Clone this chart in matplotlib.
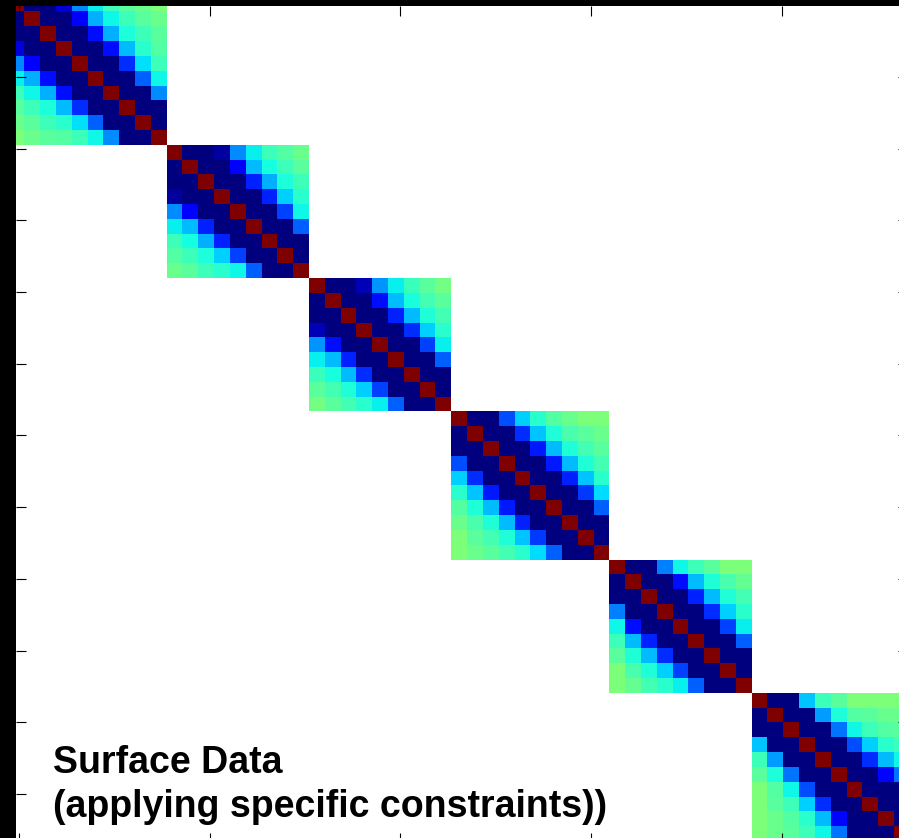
import numpy as np
import matplotlib.pyplot as plt

# upper-triangle values of each diagonal block: row i -> columns i+1, i+2, ...
block1 = [
    [0.00, 0.00, 0.08, 0.26, 0.36, 0.425, 0.46, 0.48, 0.50],
    [0.00, 0.00, 0.12, 0.30, 0.37, 0.425, 0.46, 0.48],
    [0.00, 0.00, 0.14, 0.30, 0.385, 0.425, 0.46],
    [0.00, 0.00, 0.14, 0.31, 0.40, 0.45],
    [0.00, 0.00, 0.17, 0.345, 0.425],
    [0.00, 0.00, 0.22, 0.37],
    [0.00, 0.00, 0.265],
    [0.00, 0.00],
    [0.00],
]
block2 = [
    [0.00, 0.00, 0.03, 0.265, 0.36, 0.425, 0.45, 0.48],
    [0.00, 0.00, 0.12, 0.31, 0.375, 0.425, 0.46],
    [0.00, 0.00, 0.16, 0.30, 0.385, 0.425],
    [0.00, 0.00, 0.16, 0.33, 0.40],
    [0.00, 0.00, 0.19, 0.37],
    [0.00, 0.00, 0.22],
    [0.00, 0.00],
    [0.00],
]
block3 = [
    [0.00, 0.00, 0.05, 0.27, 0.36, 0.42, 0.46, 0.49],
    [0.00, 0.00, 0.14, 0.31, 0.38, 0.43, 0.46],
    [0.00, 0.00, 0.16, 0.31, 0.39, 0.43],
    [0.00, 0.00, 0.17, 0.33, 0.40],
    [0.00, 0.00, 0.19, 0.36],
    [0.00, 0.00, 0.22],
    [0.00, 0.00],
    [0.00],
]
block4 = [
    [0.00, 0.00, 0.20, 0.33, 0.40, 0.45, 0.48, 0.50, 0.50],
    [0.00, 0.00, 0.17, 0.32, 0.39, 0.44, 0.46, 0.48],
    [0.00, 0.00, 0.15, 0.31, 0.39, 0.43, 0.46],
    [0.00, 0.00, 0.15, 0.31, 0.39, 0.43],
    [0.00, 0.00, 0.16, 0.32, 0.40],
    [0.00, 0.00, 0.18, 0.34],
    [0.00, 0.00, 0.22],
    [0.00, 0.00],
    [0.00],
]
block5 = [
    [0.00, 0.00, 0.25, 0.37, 0.425, 0.46, 0.50, 0.50],
    [0.00, 0.00, 0.14, 0.31, 0.39, 0.44, 0.47],
    [0.00, 0.00, 0.16, 0.31, 0.39, 0.43],
    [0.00, 0.00, 0.17, 0.33, 0.40],
    [0.00, 0.00, 0.19, 0.36],
    [0.00, 0.00, 0.22],
    [0.00, 0.00],
    [0.00],
]
block6 = [
    [0.00, 0.00, 0.32, 0.425, 0.46, 0.50, 0.50, 0.50, 0.50],
    [0.00, 0.00, 0.28, 0.385, 0.45, 0.46, 0.48, 0.48],
    [0.00, 0.00, 0.24, 0.37, 0.425, 0.45, 0.46],
    [0.00, 0.00, 0.20, 0.33, 0.40, 0.425],
    [0.00, 0.00, 0.17, 0.31, 0.37],
    [0.00, 0.00, 0.13, 0.24],
    [0.00, 0.00, 0.00],
    [0.00, 0.00],
    [0.00],
]
blocks = [block1, block2, block3, block4, block5, block6]
diag_value = 1.0

label_lines = ["Surface Data", "(applying specific constraints))"]

# assemble the block-diagonal matrix
sizes = [len(b) + 1 for b in blocks]
n = sum(sizes)
mat = np.full((n, n), np.nan)
start = 0
for b, size in zip(blocks, sizes):
    for i, row in enumerate(b):
        for k, v in enumerate(row):
            j = i + 1 + k
            mat[start + i, start + j] = v
            mat[start + j, start + i] = v
    for i in range(size):
        mat[start + i, start + i] = diag_value
    start += size

W, H = 899, 838
fig = plt.figure(figsize=(W / 100, H / 100), dpi=100, facecolor='black')

# axes in pixel units; the chart is a crop so the axes run past the right/bottom edges
ax_left, ax_right, ax_top, ax_bottom = 16, 908, 6, 843
ax = fig.add_axes([ax_left / W, (H - ax_bottom) / H,
                   (ax_right - ax_left) / W, (ax_bottom - ax_top) / H])
ax.set_facecolor('white')

cell_w, cell_h = 15.81, 14.8
x0, y0 = 8.6, -2.3
cmap = plt.get_cmap('jet').copy()
cmap.set_bad('white')
ax.imshow(np.ma.masked_invalid(mat), cmap=cmap, vmin=0, vmax=1,
          interpolation='nearest', aspect='auto',
          extent=[x0, x0 + n * cell_w, y0 + n * cell_h, y0])

ax.set_xlim(ax_left, ax_right)
ax.set_ylim(ax_bottom, ax_top)
ax.set_xticks(np.arange(19, 900, 190.75))
ax.set_yticks(np.arange(77, 840, 71.7))
ax.tick_params(direction='in', length=7.2, width=0.8, color='black',
               top=True, right=True, labelbottom=False, labelleft=False)
for s in ax.spines.values():
    s.set_visible(False)

for line, baseline in zip(label_lines, [773, 817]):
    ax.text(53, baseline, line, fontsize=27, fontweight='bold',
            family=['Liberation Sans', 'DejaVu Sans'], color='black',
            ha='left', va='baseline')

fig.savefig('out.png', dpi=100, facecolor='black')
